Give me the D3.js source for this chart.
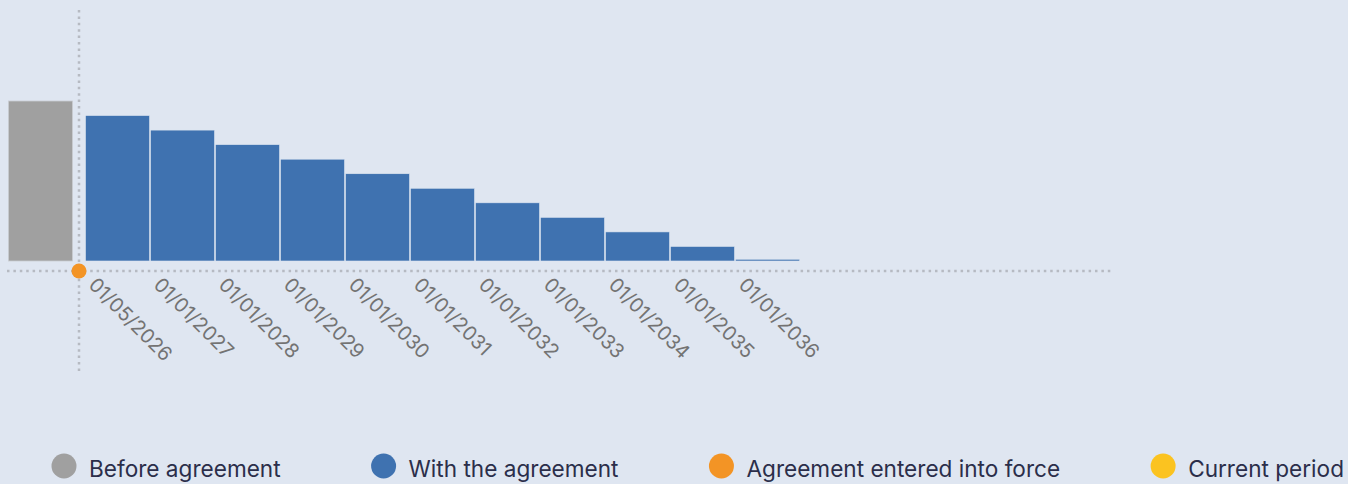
<!DOCTYPE html>
<html>
<head>
<meta charset="utf-8">
<script src="https://cdn.jsdelivr.net/npm/d3@7"></script>
<style>
  html, body { margin: 0; padding: 0; background: #dfe6f1; }
  svg { display: block; font-family: Inter, "Noto Sans", sans-serif; }
</style>
</head>
<body>
<div id="chart"></div>
<script>
// data
var dates = ["01/05/2026", "01/01/2027", "01/01/2028", "01/01/2029", "01/01/2030", "01/01/2031",
             "01/01/2032", "01/01/2033", "01/01/2034", "01/01/2035", "01/01/2036"];
var withAgreement = [10, 9, 8, 7, 6, 5, 4, 3, 2, 1, 0.12];
var beforeAgreement = 11;
var legendLabels = ["Before agreement", "With the agreement", "Agreement entered into force", "Current period"];
var legendColors = ["#a0a0a0", "#3f72b0", "#f39425", "#fbc320"];

var svgWidth = 1348;
var svgHeight = 484;

var svg = d3.select("#chart").append("svg")
            .attr("width", svgWidth)
            .attr("height", svgHeight);

var xScale = d3.scaleBand()
               .domain(dates)
               .range([85.5, 799.5])
               .paddingInner(0.015)
               .paddingOuter(0);

var yScale = d3.scaleLinear()
               .domain([0, 11])
               .range([261, 101]);

var gap = 13;
var dotColor = "#b6bac2";

// reference lines
var startX = xScale(dates[0]) - 6.5;
svg.append("line")
   .attr("x1", startX).attr("x2", startX)
   .attr("y1", 10).attr("y2", 374)
   .attr("stroke", dotColor)
   .attr("stroke-width", 2.5)
   .attr("stroke-dasharray", "2.5 3.9");

svg.append("line")
   .attr("x1", 7).attr("x2", 1112)
   .attr("y1", yScale(0) + 10).attr("y2", yScale(0) + 10)
   .attr("stroke", dotColor)
   .attr("stroke-width", 2.5)
   .attr("stroke-dasharray", "2.5 3.9");

// before bar
svg.append("rect")
   .attr("x", xScale(dates[0]) - gap - xScale.bandwidth())
   .attr("y", yScale(beforeAgreement))
   .attr("width", xScale.bandwidth())
   .attr("height", yScale(0) - yScale(beforeAgreement))
   .attr("fill", legendColors[0])
   .attr("stroke", "#c9ccd2")
   .attr("stroke-width", 0.8);

// bars with agreement
svg.selectAll("rect.bar").data(withAgreement).enter().append("rect")
   .attr("class", "bar")
   .attr("x", (d, i) => xScale(dates[i]))
   .attr("y", d => yScale(d))
   .attr("width", xScale.bandwidth())
   .attr("height", d => yScale(0) - yScale(d))
   .attr("fill", legendColors[1])
   .attr("stroke", "#dde5f0")
   .attr("stroke-width", 0.6);

// agreement marker
svg.append("circle")
   .attr("cx", startX)
   .attr("cy", yScale(0) + 10)
   .attr("r", 7.5)
   .attr("fill", legendColors[2]);

// tick labels
svg.selectAll("text.tick").data(dates).enter().append("text")
   .attr("class", "tick")
   .attr("transform", d => `translate(${xScale(d) + 2}, ${yScale(0) + 25}) rotate(45)`)
   .attr("font-size", "19.8px")
   .attr("fill", "#737373")
   .text(d => d);

// legend
var lx = 52;
legendLabels.forEach((label, i) => {
    var g = svg.append("g").attr("transform", `translate(${lx}, 466)`);
    g.append("circle")
     .attr("cx", 12).attr("cy", 0).attr("r", 12.5)
     .attr("fill", legendColors[i]);
    var t = g.append("text")
     .attr("x", 37).attr("y", 10.5)
     .attr("font-size", "22.6px")
     .attr("fill", "#2b2e4a")
     .text(label);
    lx += 37 + t.node().getComputedTextLength() + 91;
});
</script>
</body>
</html>
